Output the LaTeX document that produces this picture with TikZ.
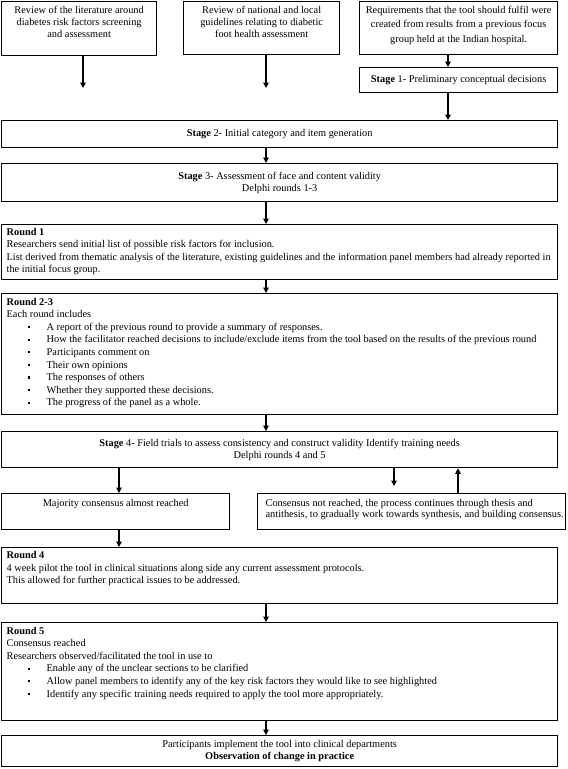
\documentclass[tikz,border=0pt]{standalone}
\usepackage{fontspec}
\setmainfont{Liberation Serif}
\usetikzlibrary{arrows.meta}
\newcommand\Cell[6]{\begin{minipage}[c][#2pt][t]{#1pt}\fontsize{10.35pt}{#4pt}\selectfont#5\vspace*{#3pt}\strut#6\end{minipage}}
\newcommand\blt{\hspace*{21pt}\makebox[19pt][l]{\rule[2pt]{2.3pt}{2.3pt}}}
\newcommand\Lft{\raggedright\leftskip=5pt\relax}
\begin{document}
\begin{tikzpicture}[x=1pt,y=-1pt,
  every node/.style={font=\fontsize{10.35pt}{12pt}\selectfont},
  box/.style={draw, line width=1.3pt, inner sep=0pt, anchor=north west},
  cbox/.style={box, align=center},
  arr/.style={line width=1.2pt, -{Triangle[length=5.5pt,width=5.5pt]}}]
\useasboundingbox (0,0) rectangle (568,769);
% top row
\node[box] (A) at (1,1) {\Cell{155}{54}{3.7}{11.8}{\centering}{Review of the literature around\\diabetes risk factors screening\\and assessment}};
\node[box] (B) at (183,1) {\Cell{156}{53}{3.7}{11.8}{\centering}{Review of national and local\\guidelines relating to diabetic\\foot health assessment}};
\node[box] (C) at (359,1) {\Cell{198}{53}{2}{14.3}{\centering}{Requirements that the tool should fulfil were\\created from results from a previous focus\\group held at the Indian hospital.}};
\node[cbox, minimum width=198pt, minimum height=25pt] (S1) at (359,67) {\textbf{Stage} 1- Preliminary conceptual decisions};
\node[cbox, minimum width=556pt, minimum height=27pt] (S2) at (1,120) {\textbf{Stage} 2- Initial category and item generation};
\node[cbox, minimum width=556pt, minimum height=38pt] (S3) at (1,163) {\textbf{Stage} 3- Assessment of face and content validity\\Delphi rounds 1-3};
\node[box] (R1) at (1,224) {\Cell{556}{55}{2.6}{12.2}{\Lft}{\textbf{Round 1}\\Researchers send initial list of possible risk factors for inclusion.\\List derived from thematic analysis of the literature, existing guidelines and the information panel members had already reported in\\the initial focus group.}};
\node[box] (R23) at (1,293) {\Cell{556}{121}{2.6}{12.6}{\Lft}{\textbf{Round 2-3}\\Each round includes\\
\blt A report of the previous round to provide a summary of responses.\\
\blt How the facilitator reached decisions to include/exclude items from the tool based on the results of the previous round\\
\blt Participants comment on\\
\blt Their own opinions\\
\blt The responses of others\\
\blt Whether they supported these decisions.\\
\blt The progress of the panel as a whole.}};
\node[cbox, minimum width=556pt, minimum height=36pt, font=\fontsize{10.35pt}{11.7pt}\selectfont] (S4) at (1,431) {\textbf{Stage} 4- Field trials to assess consistency and construct validity Identify training needs\\Delphi rounds 4 and 5};
\node[box] (M) at (1,493) {\Cell{228}{36}{4.2}{11.8}{\centering}{Majority consensus almost reached}};
\node[box] (N) at (257,493) {\Cell{308}{36}{4.2}{11.8}{\raggedright\leftskip=8pt\relax}{Consensus not reached, the process continues through thesis and\\antithesis, to gradually work towards synthesis, and building consensus.}};
\node[box] (R4) at (1,547) {\Cell{556}{56}{2.6}{12.4}{\Lft}{\textbf{Round 4}\\4 week pilot the tool in clinical situations along side any current assessment protocols.\\This allowed for further practical issues to be addressed.}};
\node[box] (R5) at (1,622) {\Cell{556}{98}{2.6}{12.6}{\Lft}{\textbf{Round 5}\\Consensus reached\\Researchers observed/facilitated the tool in use to\\
\blt Enable any of the unclear sections to be clarified\\
\blt Allow panel members to identify any of the key risk factors they would like to see highlighted\\
\blt Identify any specific training needs required to apply the tool more appropriately.}};
\node[cbox, minimum width=556pt, minimum height=31pt] (F) at (1,735) {Participants implement the tool into clinical departments\\\textbf{Observation of change in practice}};
% connectors
\coordinate (a1) at (83,88);
\coordinate (b1) at (266,88);
\coordinate (cx) at (448,0);
\coordinate (mx) at (266,0);
\coordinate (lx) at (119,0);
\coordinate (dx) at (394,0);
\coordinate (ux) at (458,0);
\draw[arr] (A.south -| a1) -- (a1);
\draw[arr] (B.south -| b1) -- (b1);
\draw[arr] (C.south -| cx) -- (S1.north -| cx);
\draw[arr] (S1.south -| cx) -- (S2.north -| cx);
\draw[arr] (S2.south -| mx) -- (S3.north -| mx);
\draw[arr] (S3.south -| mx) -- (R1.north -| mx);
\draw[arr] (R1.south -| mx) -- (R23.north -| mx);
\draw[arr] (R23.south -| mx) -- (S4.north -| mx);
\draw[arr] (S4.south -| lx) -- (M.north -| lx);
\draw[arr] (S4.south -| dx) -- ([yshift=7pt]N.north -| dx);
\draw[arr] (N.north -| ux) -- (S4.south -| ux);
\draw[arr] (M.south -| lx) -- (R4.north -| lx);
\draw[arr] (R4.south -| mx) -- (R5.north -| mx);
\draw[arr] (R5.south -| mx) -- (F.north -| mx);
\end{tikzpicture}
\end{document}
